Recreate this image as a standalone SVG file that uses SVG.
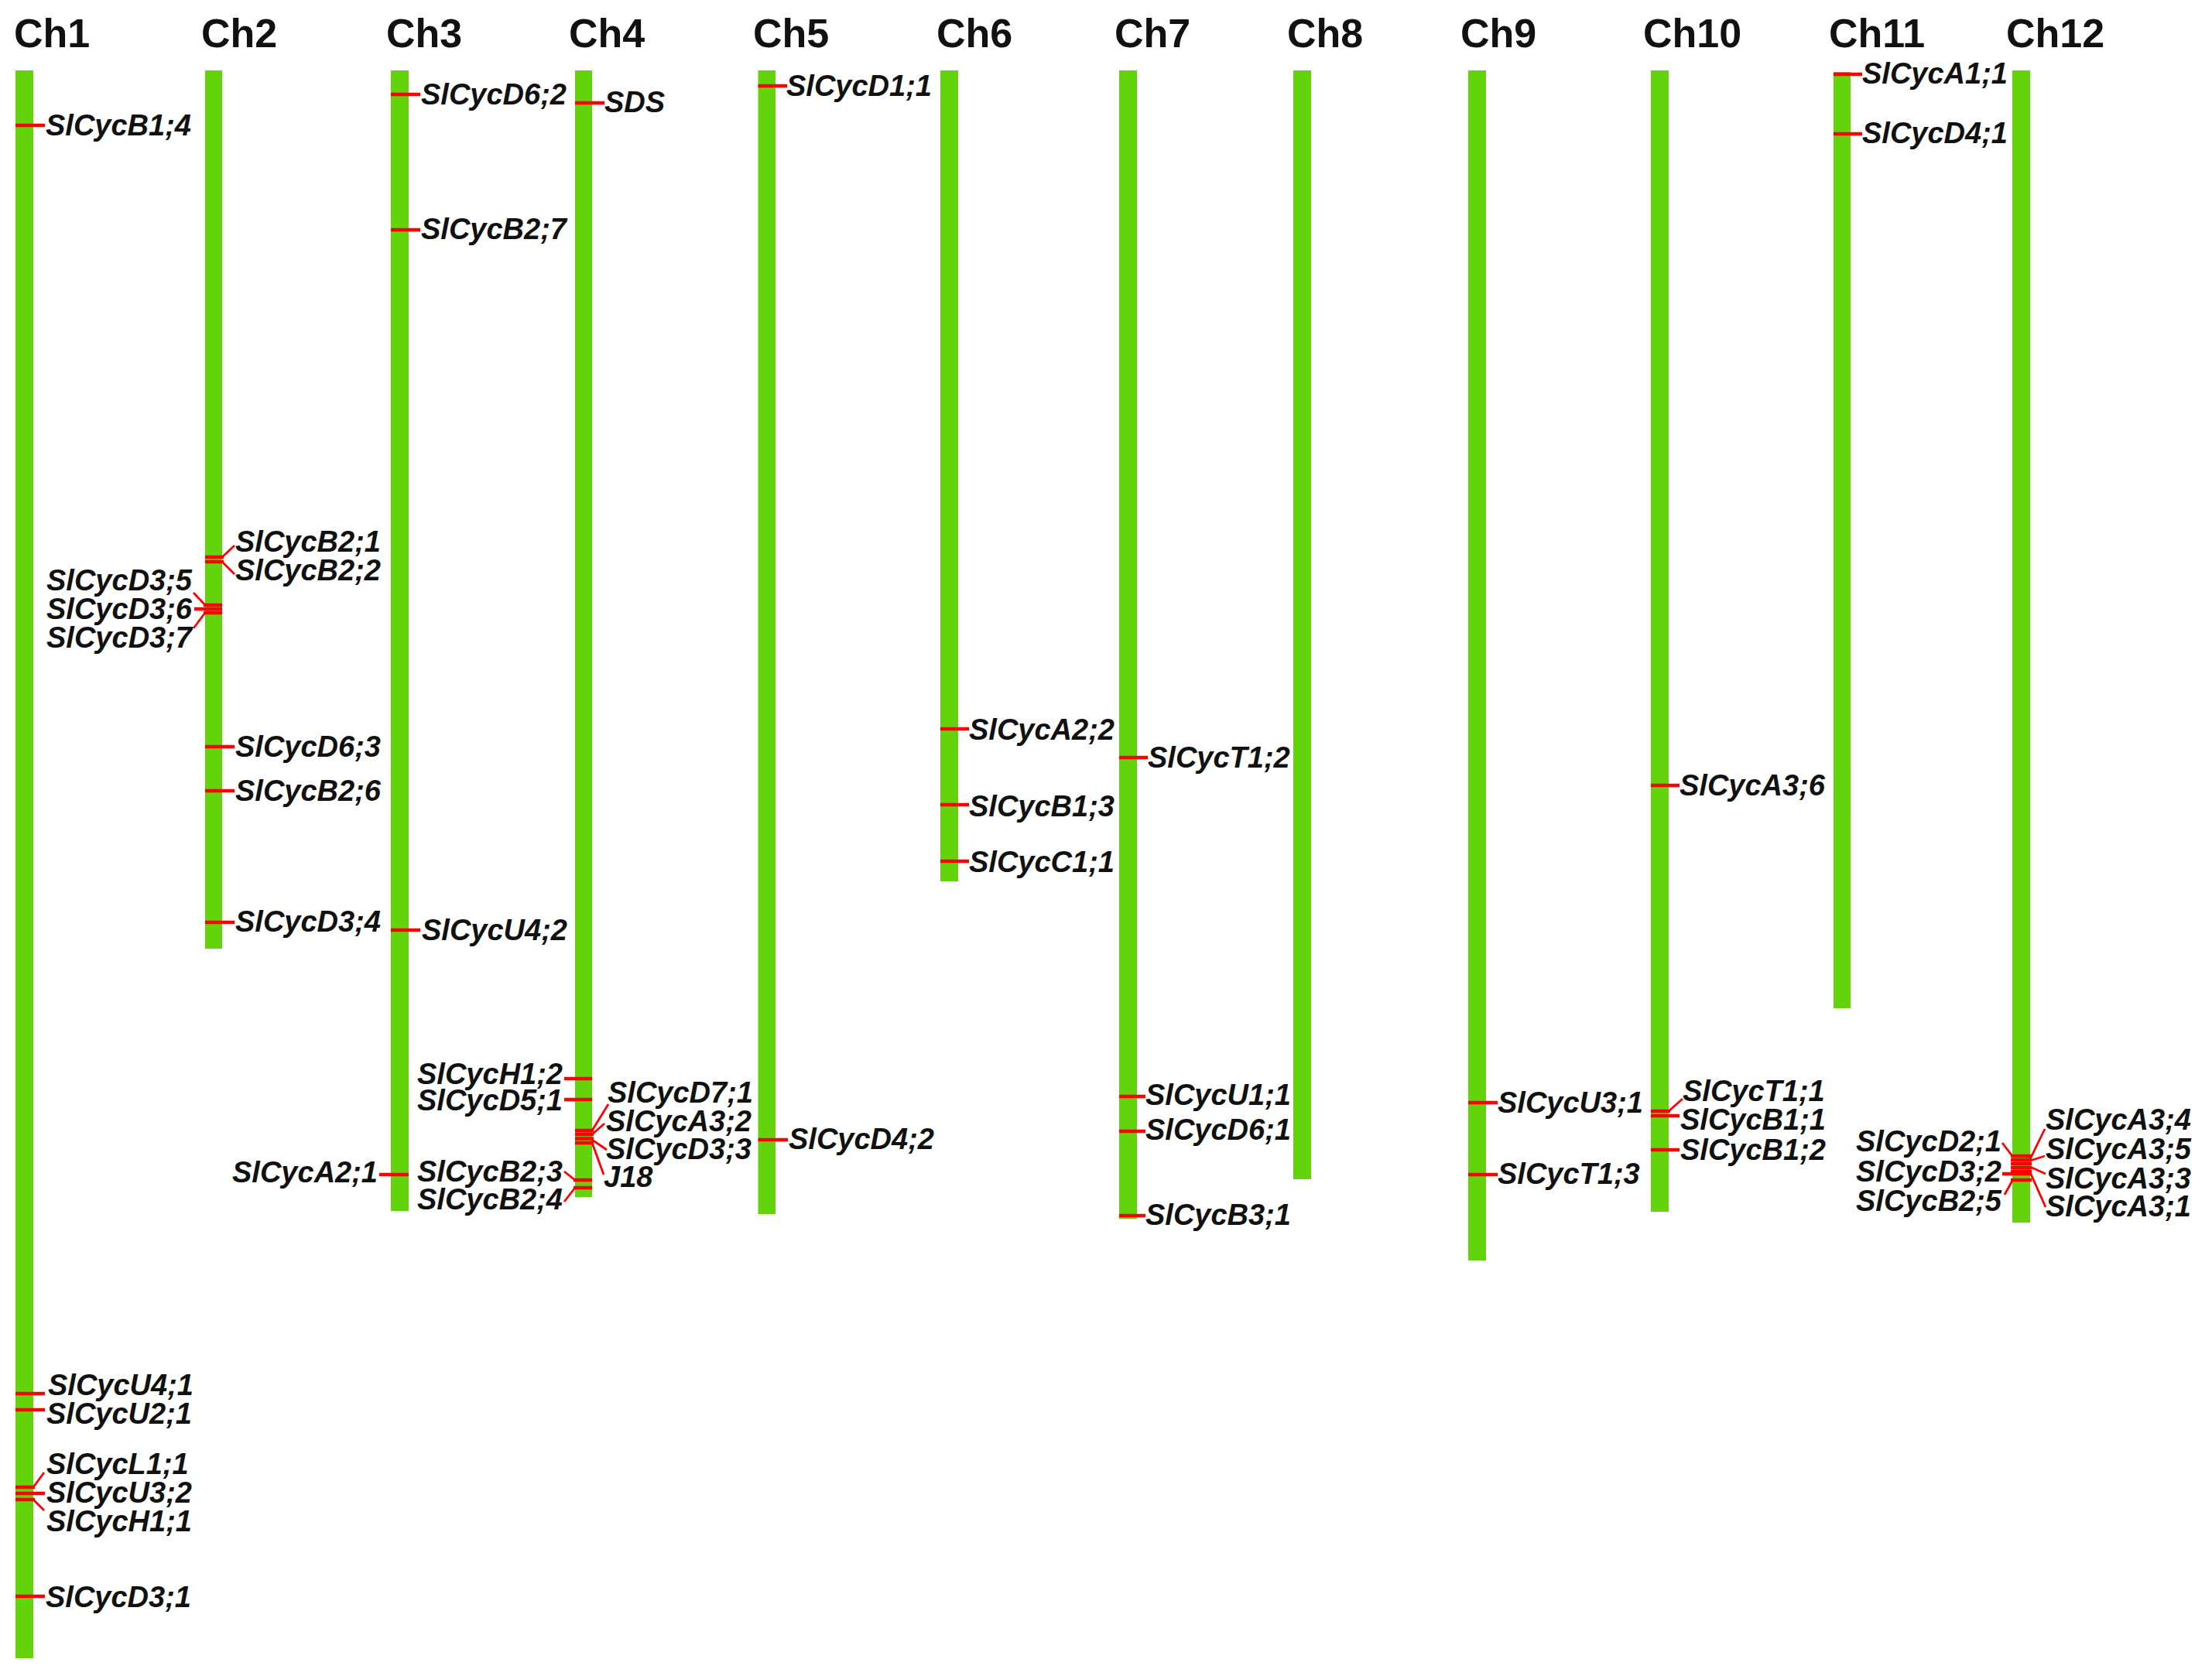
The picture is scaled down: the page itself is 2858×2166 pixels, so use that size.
<svg xmlns="http://www.w3.org/2000/svg" width="2858" height="2166" viewBox="0 0 2858 2166">
<style>
.bar{fill:#63d30b}
.t{font-family:"Liberation Sans",Arial,sans-serif;font-weight:bold;font-size:52px;fill:#111}
.g{font-family:"Liberation Sans",Arial,sans-serif;font-weight:bold;font-style:italic;font-size:38px;fill:#111}
.e{text-anchor:end}
.tk{stroke:#ff0000;stroke-width:4.5;fill:none}
.ld{stroke:#ff0000;stroke-width:2.8;fill:none}
</style>
<rect width="2858" height="2166" fill="#fff"/>
<g id="chromosomes">
<g id="ch1"><rect class="bar" x="20" y="91" width="23" height="2052"/><text class="t" x="18" y="61">Ch1</text></g>
<g id="ch2"><rect class="bar" x="265" y="91" width="22" height="1135"/><text class="t" x="260" y="61">Ch2</text></g>
<g id="ch3"><rect class="bar" x="505" y="91" width="23" height="1474"/><text class="t" x="499" y="61">Ch3</text></g>
<g id="ch4"><rect class="bar" x="743" y="91" width="22" height="1456"/><text class="t" x="735" y="61">Ch4</text></g>
<g id="ch5"><rect class="bar" x="979.5" y="91" width="22.5" height="1478"/><text class="t" x="973" y="61">Ch5</text></g>
<g id="ch6"><rect class="bar" x="1215" y="91" width="23" height="1048"/><text class="t" x="1210" y="61">Ch6</text></g>
<g id="ch7"><rect class="bar" x="1446" y="91" width="23" height="1484"/><text class="t" x="1440" y="61">Ch7</text></g>
<g id="ch8"><rect class="bar" x="1671" y="91" width="23" height="1433"/><text class="t" x="1663" y="61">Ch8</text></g>
<g id="ch9"><rect class="bar" x="1897" y="91" width="23" height="1538"/><text class="t" x="1887" y="61">Ch9</text></g>
<g id="ch10"><rect class="bar" x="2133" y="91" width="23" height="1475"/><text class="t" x="2123" y="61">Ch10</text></g>
<g id="ch11"><rect class="bar" x="2369" y="93" width="22" height="1210"/><text class="t" x="2363" y="61">Ch11</text></g>
<g id="ch12"><rect class="bar" x="2600" y="91" width="23" height="1489"/><text class="t" x="2592" y="61">Ch12</text></g>
</g>
<g id="connectors">
<!-- Ch1 -->
<line class="tk" x1="20" y1="162" x2="58" y2="162"/>
<line class="tk" x1="20" y1="1801" x2="58" y2="1801"/>
<line class="tk" x1="20" y1="1822" x2="58" y2="1822"/>
<line class="tk" x1="20" y1="1922" x2="45" y2="1922"/>
<line class="tk" x1="20" y1="1930" x2="58" y2="1930"/>
<line class="tk" x1="20" y1="1938" x2="45" y2="1938"/>
<polyline class="ld" points="43,1922 57,1903"/>
<polyline class="ld" points="43,1938 57,1952"/>
<line class="tk" x1="20" y1="2063" x2="58" y2="2063"/>
<!-- Ch2 -->
<line class="tk" x1="265" y1="720" x2="289" y2="720"/>
<line class="tk" x1="265" y1="726" x2="289" y2="726"/>
<polyline class="ld" points="287,720 303,705"/>
<polyline class="ld" points="287,726 303,742"/>
<line class="tk" x1="263" y1="782" x2="287" y2="782"/>
<line class="tk" x1="251" y1="787" x2="287" y2="787"/>
<line class="tk" x1="263" y1="792" x2="287" y2="792"/>
<polyline class="ld" points="265,782 250,766"/>
<polyline class="ld" points="265,792 250,812"/>
<line class="tk" x1="265" y1="965" x2="303" y2="965"/>
<line class="tk" x1="265" y1="1022" x2="303" y2="1022"/>
<line class="tk" x1="265" y1="1192" x2="303" y2="1192"/>
<!-- Ch3 -->
<line class="tk" x1="505" y1="122" x2="543" y2="122"/>
<line class="tk" x1="505" y1="297" x2="543" y2="297"/>
<line class="tk" x1="505" y1="1202" x2="543" y2="1202"/>
<line class="tk" x1="490" y1="1518" x2="528" y2="1518"/>
<!-- Ch4 -->
<line class="tk" x1="743" y1="133" x2="781" y2="133"/>
<line class="tk" x1="729" y1="1394" x2="765" y2="1394"/>
<line class="tk" x1="729" y1="1421" x2="765" y2="1421"/>
<line class="tk" x1="743" y1="1461" x2="767" y2="1461"/>
<line class="tk" x1="743" y1="1466" x2="767" y2="1466"/>
<line class="tk" x1="743" y1="1471.5" x2="767" y2="1471.5"/>
<line class="tk" x1="743" y1="1477" x2="767" y2="1477"/>
<polyline class="ld" points="765,1461 786,1427"/>
<polyline class="ld" points="765,1466 781,1452"/>
<polyline class="ld" points="765,1473 784,1486"/>
<polyline class="ld" points="765,1477 780,1518"/>
<line class="tk" x1="741" y1="1525" x2="765" y2="1525"/>
<line class="tk" x1="741" y1="1535" x2="765" y2="1535"/>
<polyline class="ld" points="743,1525 729,1514"/>
<polyline class="ld" points="743,1535 729,1553"/>
<!-- Ch5 -->
<line class="tk" x1="979.5" y1="111" x2="1017" y2="111"/>
<line class="tk" x1="979.5" y1="1473" x2="1018" y2="1473"/>
<!-- Ch6 -->
<line class="tk" x1="1215" y1="942" x2="1252" y2="942"/>
<line class="tk" x1="1215" y1="1040" x2="1252" y2="1040"/>
<line class="tk" x1="1215" y1="1113" x2="1252" y2="1113"/>
<!-- Ch7 -->
<line class="tk" x1="1446" y1="979" x2="1483" y2="979"/>
<line class="tk" x1="1446" y1="1417" x2="1480" y2="1417"/>
<line class="tk" x1="1446" y1="1462" x2="1480" y2="1462"/>
<line class="tk" x1="1446" y1="1571" x2="1480" y2="1571"/>
<!-- Ch9 -->
<line class="tk" x1="1897" y1="1425" x2="1935" y2="1425"/>
<line class="tk" x1="1897" y1="1518" x2="1935" y2="1518"/>
<!-- Ch10 -->
<line class="tk" x1="2133" y1="1015" x2="2170" y2="1015"/>
<line class="tk" x1="2133" y1="1436" x2="2158" y2="1436"/>
<line class="tk" x1="2133" y1="1442" x2="2170" y2="1442"/>
<polyline class="ld" points="2156,1436 2174,1420"/>
<line class="tk" x1="2133" y1="1486" x2="2170" y2="1486"/>
<!-- Ch11 -->
<line class="tk" x1="2369" y1="96" x2="2406" y2="96"/>
<line class="tk" x1="2369" y1="173" x2="2406" y2="173"/>
<!-- Ch12 -->
<line class="tk" x1="2598" y1="1494" x2="2625" y2="1494"/>
<line class="tk" x1="2598" y1="1499" x2="2625" y2="1499"/>
<line class="tk" x1="2598" y1="1504" x2="2625" y2="1504"/>
<line class="tk" x1="2598" y1="1509" x2="2625" y2="1509"/>
<line class="tk" x1="2598" y1="1514" x2="2625" y2="1514"/>
<line class="tk" x1="2587" y1="1517" x2="2625" y2="1517"/>
<line class="tk" x1="2598" y1="1525" x2="2625" y2="1525"/>
<polyline class="ld" points="2600,1494 2587,1477"/>
<polyline class="ld" points="2600,1526 2590,1544"/>
<polyline class="ld" points="2623,1498 2642,1459"/>
<polyline class="ld" points="2623,1500 2642,1494"/>
<polyline class="ld" points="2623,1508 2643,1517"/>
<polyline class="ld" points="2623,1515 2643,1560"/>
</g>
<g id="genes">
<g id="ch1-genes">
<text class="g" x="59" y="175">SlCycB1;4</text>
<text class="g" x="62" y="1803">SlCycU4;1</text>
<text class="g" x="60" y="1840">SlCycU2;1</text>
<text class="g" x="60" y="1905">SlCycL1;1</text>
<text class="g" x="60" y="1942">SlCycU3;2</text>
<text class="g" x="60" y="1979">SlCycH1;1</text>
<text class="g" x="59" y="2077">SlCycD3;1</text>
</g>
<g id="ch2-genes">
<text class="g" x="304" y="713">SlCycB2;1</text>
<text class="g" x="304" y="750">SlCycB2;2</text>
<text class="g e" x="248" y="763">SlCycD3;5</text>
<text class="g e" x="248" y="800">SlCycD3;6</text>
<text class="g e" x="248" y="837">SlCycD3;7</text>
<text class="g" x="304" y="978">SlCycD6;3</text>
<text class="g" x="304" y="1035">SlCycB2;6</text>
<text class="g" x="304" y="1204">SlCycD3;4</text>
</g>
<g id="ch3-genes">
<text class="g" x="544" y="135">SlCycD6;2</text>
<text class="g" x="544" y="309">SlCycB2;7</text>
<text class="g" x="545" y="1215">SlCycU4;2</text>
<text class="g e" x="488" y="1528">SlCycA2;1</text>
</g>
<g id="ch4-genes">
<text class="g" x="781" y="145">SDS</text>
<text class="g e" x="727" y="1401">SlCycH1;2</text>
<text class="g e" x="727" y="1435">SlCycD5;1</text>
<text class="g" x="785" y="1425">SlCycD7;1</text>
<text class="g" x="783" y="1461.5">SlCycA3;2</text>
<text class="g" x="783" y="1498">SlCycD3;3</text>
<text class="g" x="780" y="1534">J18</text>
<text class="g e" x="727" y="1527">SlCycB2;3</text>
<text class="g e" x="727" y="1563">SlCycB2;4</text>
</g>
<g id="ch5-genes">
<text class="g" x="1016" y="124">SlCycD1;1</text>
<text class="g" x="1019" y="1485">SlCycD4;2</text>
</g>
<g id="ch6-genes">
<text class="g" x="1252" y="956">SlCycA2;2</text>
<text class="g" x="1252" y="1055">SlCycB1;3</text>
<text class="g" x="1252" y="1127">SlCycC1;1</text>
</g>
<g id="ch7-genes">
<text class="g" x="1483" y="992">SlCycT1;2</text>
<text class="g" x="1480" y="1428">SlCycU1;1</text>
<text class="g" x="1480" y="1473">SlCycD6;1</text>
<text class="g" x="1480" y="1583">SlCycB3;1</text>
</g>
<g id="ch9-genes">
<text class="g" x="1935" y="1438">SlCycU3;1</text>
<text class="g" x="1935" y="1530">SlCycT1;3</text>
</g>
<g id="ch10-genes">
<text class="g" x="2170" y="1028">SlCycA3;6</text>
<text class="g" x="2174" y="1423">SlCycT1;1</text>
<text class="g" x="2171" y="1460">SlCycB1;1</text>
<text class="g" x="2171" y="1499">SlCycB1;2</text>
</g>
<g id="ch11-genes">
<text class="g" x="2406" y="108">SlCycA1;1</text>
<text class="g" x="2406" y="185">SlCycD4;1</text>
</g>
<g id="ch12-genes">
<text class="g e" x="2586" y="1488">SlCycD2;1</text>
<text class="g e" x="2586" y="1527">SlCycD3;2</text>
<text class="g e" x="2586" y="1565">SlCycB2;5</text>
<text class="g" x="2643" y="1460">SlCycA3;4</text>
<text class="g" x="2643" y="1498">SlCycA3;5</text>
<text class="g" x="2643" y="1536">SlCycA3;3</text>
<text class="g" x="2643" y="1572">SlCycA3;1</text>
</g>
</g>
</svg>
